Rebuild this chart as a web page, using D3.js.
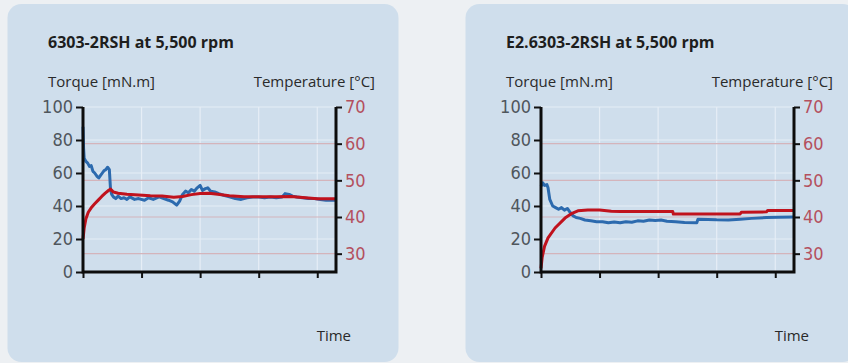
<!DOCTYPE html>
<html lang="en">
<head>
    <meta charset="UTF-8">
    <title>Torque and temperature</title>
    <script src="https://cdn.jsdelivr.net/npm/d3@7"></script>
    <style>
        body {
            margin: 0;
            background: #edf0f3;
        }
        svg {
            display: block;
        }
        .title {
            font-family: "Open Sans", sans-serif;
            font-weight: bold;
            font-size: 16px;
            fill: #1e1e1e;
        }
        .label {
            font-family: "Open Sans", sans-serif;
            font-size: 15px;
            fill: #2a2a2a;
        }
        .tick text {
            font-family: "DejaVu Sans Condensed", "DejaVu Sans", sans-serif;
            font-size: 18px;
        }
    </style>
</head>
<body>
<div id="canvas"></div>
<script>
    const width = 848;
    const height = 363;

    const titles = ["6303-2RSH at 5,500 rpm", "E2.6303-2RSH at 5,500 rpm"];
    const timeTicks = [0, 1, 2, 3, 4];
    const torqueTicks = [0, 20, 40, 60, 80, 100];
    const tempTicks = [30, 40, 50, 60, 70];

    // [time, torque mN.m]
    const torque1 = [[0,88],[0.01,75],[0.02,69],[0.05,67],[0.08,66],[0.11,64],[0.14,64.5],[0.17,61],[0.2,60],[0.24,58],
        [0.27,57],[0.3,58.5],[0.33,60],[0.36,61.5],[0.39,62],[0.42,63.5],[0.45,62],[0.47,50],[0.49,47],[0.52,45.5],
        [0.56,44.5],[0.6,46],[0.65,44.5],[0.7,45],[0.75,44],[0.8,45.5],[0.88,44],[0.95,44.5],[1.05,43.5],[1.12,45],
        [1.2,44],[1.3,45.5],[1.38,44.5],[1.46,43.5],[1.53,42.5],[1.6,40.5],[1.65,43],[1.7,47],[1.75,49],[1.8,48],
        [1.85,50],[1.9,49],[1.95,51],[2.0,52.5],[2.04,49.5],[2.09,50.5],[2.13,51],[2.18,49],[2.25,48.5],[2.32,47.5],
        [2.4,46.5],[2.5,45.5],[2.6,44.5],[2.7,44],[2.8,45],[2.9,45.5],[3.0,45.5],[3.1,45],[3.2,45.5],[3.3,45],
        [3.4,45.5],[3.45,47.5],[3.52,47],[3.58,46],[3.65,45.5],[3.75,45],[3.85,44.5],[3.95,44.5],[4.05,44],[4.15,43.5],
        [4.25,43.5],[4.32,43.5]];
    // [time, temperature °C]
    const temp1 = [[0,34],[0.02,37],[0.05,39.5],[0.09,41.3],[0.14,42.5],[0.2,43.6],[0.26,44.6],[0.32,45.6],[0.38,46.5],
        [0.44,47.3],[0.47,47.6],[0.52,46.8],[0.6,46.5],[0.75,46.2],[0.95,46],[1.15,45.8],[1.35,45.7],[1.55,45.4],
        [1.7,45.6],[1.85,46.1],[2.0,46.4],[2.15,46.5],[2.3,46.2],[2.5,45.8],[2.75,45.5],[3.0,45.5],[3.3,45.5],
        [3.55,45.6],[3.75,45.3],[4.0,45],[4.32,45]];

    const torque2 = [[0,52],[0.03,54],[0.06,52.5],[0.1,53],[0.12,51],[0.15,44],[0.2,40],[0.25,39],[0.3,38],[0.35,39],
        [0.4,37.5],[0.45,38.5],[0.5,36],[0.55,34],[0.6,33],[0.67,32.5],[0.75,31.5],[0.85,31],[0.95,30.5],[1.05,30.5],
        [1.15,29.8],[1.25,30.3],[1.35,29.8],[1.45,30.5],[1.55,30.2],[1.65,31],[1.75,30.8],[1.85,31.5],[1.95,31.2],
        [2.05,31.5],[2.15,30.8],[2.3,30.5],[2.45,30],[2.66,29.8],[2.68,32],[2.85,31.8],[3.0,31.6],[3.2,31.5],
        [3.4,32],[3.6,32.5],[3.85,33],[4.05,33.2],[4.32,33.3]];
    const temp2 = [[0,26],[0.02,29],[0.06,32],[0.12,34.3],[0.24,37],[0.41,39.7],[0.53,41],[0.63,41.7],[0.8,41.9],
        [1.0,41.9],[1.2,41.6],[1.35,41.5],[2.25,41.5],[2.26,40.8],[3.4,40.8],[3.42,41.3],[3.85,41.4],[3.87,41.8],
        [4.32,41.8]];

    const panels = [
        {title: titles[0], torque: torque1, temp: temp1, dx: 0},
        {title: titles[1], torque: torque2, temp: temp2, dx: 458}
    ];

    const svg = d3.select("#canvas")
        .append("svg")
        .attr("width", width)
        .attr("height", height);

    const x = d3.scaleLinear().domain([0, 4.32]).range([83, 336]);
    const yTorque = d3.scaleLinear().domain([0, 100]).range([272, 107]);
    const yTemp = d3.scaleLinear().domain([25, 70]).range([272, 107]);

    panels.forEach(p => {
        const g = svg.append("g").attr("transform", `translate(${p.dx},0)`);

        g.append("rect")
            .attr("x", 7.5).attr("y", 4)
            .attr("width", 391).attr("height", 358)
            .attr("rx", 14)
            .attr("fill", "#cfdeec");

        g.append("text").attr("class", "title").attr("x", 48).attr("y", 48).text(p.title);
        g.append("text").attr("class", "label").attr("x", 48).attr("y", 87).text("Torque [mN.m]");
        g.append("text").attr("class", "label").attr("x", 375).attr("y", 87)
            .attr("text-anchor", "end").text("Temperature [°C]");
        g.append("text").attr("class", "label").attr("x", 351).attr("y", 341)
            .attr("text-anchor", "end").text("Time");

        // grid
        g.append("g").selectAll("line")
            .data(torqueTicks.slice(1))
            .join("line")
            .attr("x1", x(0)).attr("x2", x.range()[1])
            .attr("y1", d => yTorque(d)).attr("y2", d => yTorque(d))
            .attr("stroke", "#e6eef6").attr("stroke-width", 1.2);
        g.append("g").selectAll("line")
            .data(timeTicks.slice(1))
            .join("line")
            .attr("x1", d => x(d)).attr("x2", d => x(d))
            .attr("y1", yTorque(0)).attr("y2", yTorque(100))
            .attr("stroke", "#e6eef6").attr("stroke-width", 1.2);
        g.append("g").selectAll("line")
            .data(tempTicks.slice(0, -1))
            .join("line")
            .attr("x1", x(0)).attr("x2", x.range()[1])
            .attr("y1", d => yTemp(d)).attr("y2", d => yTemp(d))
            .attr("stroke", "#d4b4bb").attr("stroke-width", 1.2);

        // lines
        g.append("path")
            .datum(p.torque)
            .attr("fill", "none")
            .attr("stroke", "#2c6aae")
            .attr("stroke-width", 3)
            .attr("stroke-linejoin", "round")
            .attr("d", d3.line().x(d => x(d[0])).y(d => yTorque(d[1])));
        g.append("path")
            .datum(p.temp)
            .attr("fill", "none")
            .attr("stroke", "#c0121d")
            .attr("stroke-width", 3)
            .attr("stroke-linejoin", "round")
            .attr("d", d3.line().x(d => x(d[0])).y(d => yTemp(d[1])));

        // axes
        const left = g.append("g").attr("transform", `translate(${x(0)},0)`)
            .call(d3.axisLeft(yTorque).tickValues(torqueTicks).tickSize(7).tickPadding(3));
        left.selectAll("text").attr("fill", "#4f565c");

        const right = g.append("g").attr("transform", `translate(${x.range()[1]},0)`)
            .call(d3.axisRight(yTemp).tickValues(tempTicks).tickSize(6).tickPadding(3));
        right.selectAll("text").attr("fill", "#b4505e");

        const bottom = g.append("g").attr("transform", `translate(0,${yTorque(0)})`)
            .call(d3.axisBottom(x).tickValues(timeTicks).tickSize(6).tickFormat(""));

        [left, right, bottom].forEach(a => {
            a.select(".domain").remove();
            a.selectAll(".tick line").attr("stroke", "#111").attr("stroke-width", 2);
        });

        g.append("path")
            .attr("d", `M${x(0)},${yTorque(100)}V${yTorque(0)}H${x.range()[1]}V${yTorque(100)}`)
            .attr("fill", "none")
            .attr("stroke", "#0c0c0c")
            .attr("stroke-width", 3);
    });
</script>
</body>
</html>
